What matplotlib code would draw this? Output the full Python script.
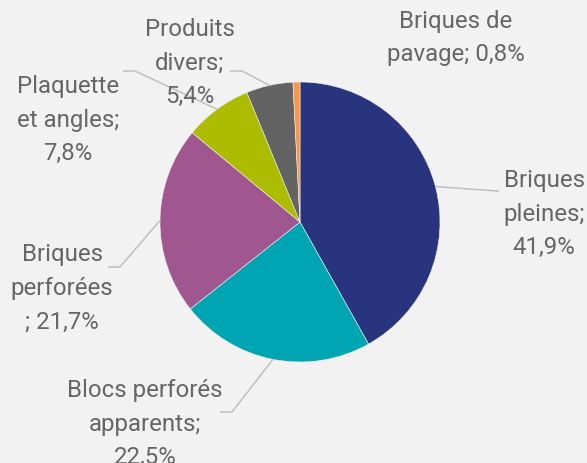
import numpy as np
import matplotlib
matplotlib.use('Agg')
import matplotlib.pyplot as plt

labels = ["Briques\npleines;\n41,9%", "Blocs perforés\napparents;\n22,5%", "Briques\nperforées\n; 21,7%",
          "Plaquette\net angles;\n7,8%", "Produits\ndivers;\n5,4%", "Briques de\npavage; 0,8%"]
values = [41.9, 22.5, 21.7, 7.8, 5.4, 0.8]
colors = ["#29347f", "#00a5b3", "#a0578f", "#acbd00", "#636363", "#f79646"]

W, H = 587, 463
bg = "#f2f2f2"
txt = "#666666"

plt.rcParams['font.family'] = ['Roboto', 'DejaVu Sans']

fig = plt.figure(figsize=(W / 100, H / 100), dpi=100, facecolor=bg)
ax = fig.add_axes([0, 0, 1, 1])
ax.set_facecolor(bg)

cx, cy, r = 300, H - 222, 140
ax.pie(values, colors=colors, startangle=90, counterclock=False, center=(cx, cy), radius=r,
       wedgeprops=dict(edgecolor=bg, linewidth=0.4), frame=True)
ax.set_xlim(0, W)
ax.set_ylim(0, H)
ax.axis('off')

# label positions (text centre, elbow of leader, end of leader) in pixels from top-left
text_pos = [(544, 214), (145, 424), (62, 288), (68, 120), (190, 63), (456, 38)]
elbows = [(497, 191), (232, 412), (120, 267), (135, 71), (242, 71), None]
ends = [(499, 191), (220, 412), (108, 267), (123, 71), (230, 71), None]

tot = sum(values)
cum = np.cumsum([0] + values[:-1])
for i, v in enumerate(values):
    ang = np.deg2rad(90 - (cum[i] + v / 2) / tot * 360)
    x0, y0 = cx + r * np.cos(ang), cy + r * np.sin(ang)
    if elbows[i] is not None:
        ex, ey = elbows[i]
        fx, fy = ends[i]
        ax.plot([x0, ex, fx], [y0, H - ey, H - fy], color="#bfbfbf", lw=1.1, solid_capstyle='butt')
    tx, ty = text_pos[i]
    ax.text(tx, H - ty, labels[i], ha='center', va='center', fontsize=17.3, color=txt,
            linespacing=1.6, multialignment='center')

fig.savefig("out.png", dpi=100, facecolor=bg)
